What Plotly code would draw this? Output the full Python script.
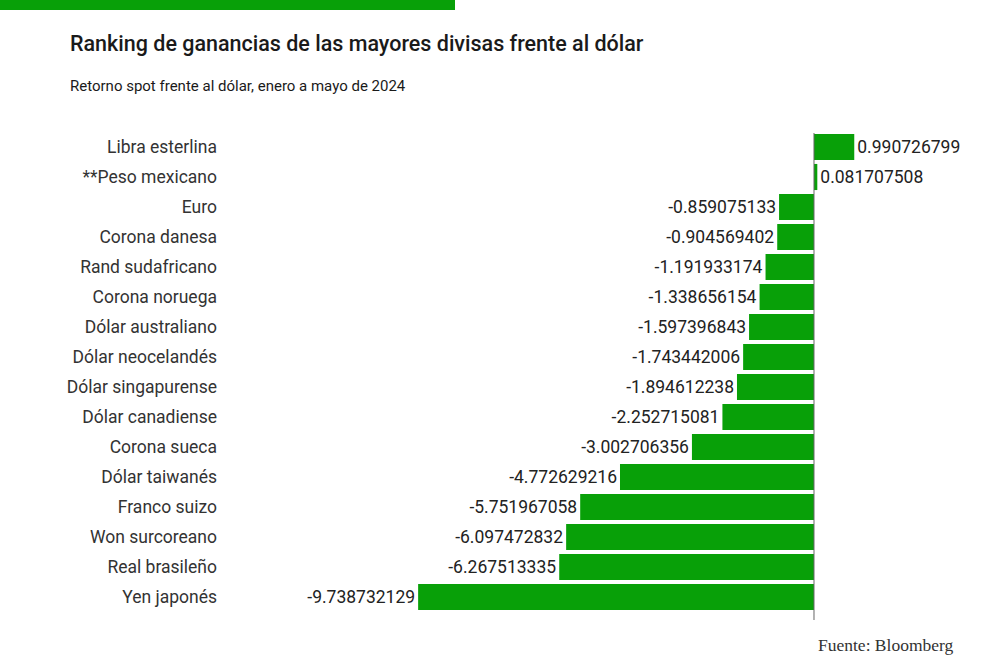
import plotly.graph_objects as go

# --- DATA ---
divisas = [
    "Libra esterlina", "**Peso mexicano", "Euro", "Corona danesa", "Rand sudafricano",
    "Corona noruega", "Dólar australiano", "Dólar neocelandés", "Dólar singapurense",
    "Dólar canadiense", "Corona sueca", "Dólar taiwanés", "Franco suizo",
    "Won surcoreano", "Real brasileño", "Yen japonés",
]
retornos = [
    0.990726799, 0.081707508, -0.859075133, -0.904569402, -1.191933174,
    -1.338656154, -1.597396843, -1.743442006, -1.894612238, -2.252715081,
    -3.002706356, -4.772629216, -5.751967058, -6.097472832, -6.267513335,
    -9.738732129,
]
etiquetas = [f"{v:.9f}" for v in retornos]

VERDE = "#08a008"
L, R, T, B = 225, 10, 132, 54
PW, PH = 1000 - L - R, 666 - T - B


def px(x):  # pixel -> paper x
    return (x - L) / PW


def py(y):  # pixel -> paper y
    return (666 - B - y) / PH


fig = go.Figure()
fig.add_trace(go.Bar(
    x=retornos, y=divisas, orientation="h",
    marker=dict(color=VERDE, line=dict(width=0)),
    text=etiquetas, textposition="outside", cliponaxis=False,
    textfont=dict(family="Roboto", size=17.5, color="#222222"),
    hoverinfo="skip",
))

# zero line
fig.add_shape(type="line", xref="x", yref="paper", x0=0, x1=0, y0=py(620), y1=py(133),
              line=dict(color="#666666", width=1))
# green strip top-left
fig.add_shape(type="rect", xref="paper", yref="paper",
              x0=px(-5), x1=px(455), y0=py(10), y1=py(-5),
              fillcolor=VERDE, line=dict(width=0), layer="above")

fig.update_layout(
    width=1000, height=666,
    paper_bgcolor="white", plot_bgcolor="white",
    margin=dict(l=L, r=R, t=T, b=B),
    showlegend=False,
    bargap=0.13,
    font=dict(family="Roboto", color="#333333"),
    xaxis=dict(range=[-14.49, 4.33], visible=False, fixedrange=True),
    yaxis=dict(autorange="reversed", showgrid=False, zeroline=False, showline=False,
               ticks="", tickfont=dict(family="Roboto", size=17.5, color="#333333"),
               ticklabelstandoff=7, fixedrange=True),
)

fig.add_annotation(text="Ranking de ganancias de las mayores divisas frente al dólar",
                   xref="paper", yref="paper", x=px(68), y=py(43), xanchor="left", yanchor="middle",
                   showarrow=False, font=dict(family="Roboto", size=21.5, color="#1a1a1a", weight=500))
fig.add_annotation(text="Retorno spot frente al dólar, enero a mayo de 2024",
                   xref="paper", yref="paper", x=px(68), y=py(86), xanchor="left", yanchor="middle",
                   showarrow=False, font=dict(family="Roboto", size=15, color="#1a1a1a"))
fig.add_annotation(text="Fuente: Bloomberg",
                   xref="paper", yref="paper", x=px(816), y=py(645), xanchor="left", yanchor="middle",
                   showarrow=False, font=dict(family="Liberation Serif", size=17.5, color="#333333"))

fig.write_html("out.html", config={"displayModeBar": False},
               post_script="document.body.style.margin='0';")
